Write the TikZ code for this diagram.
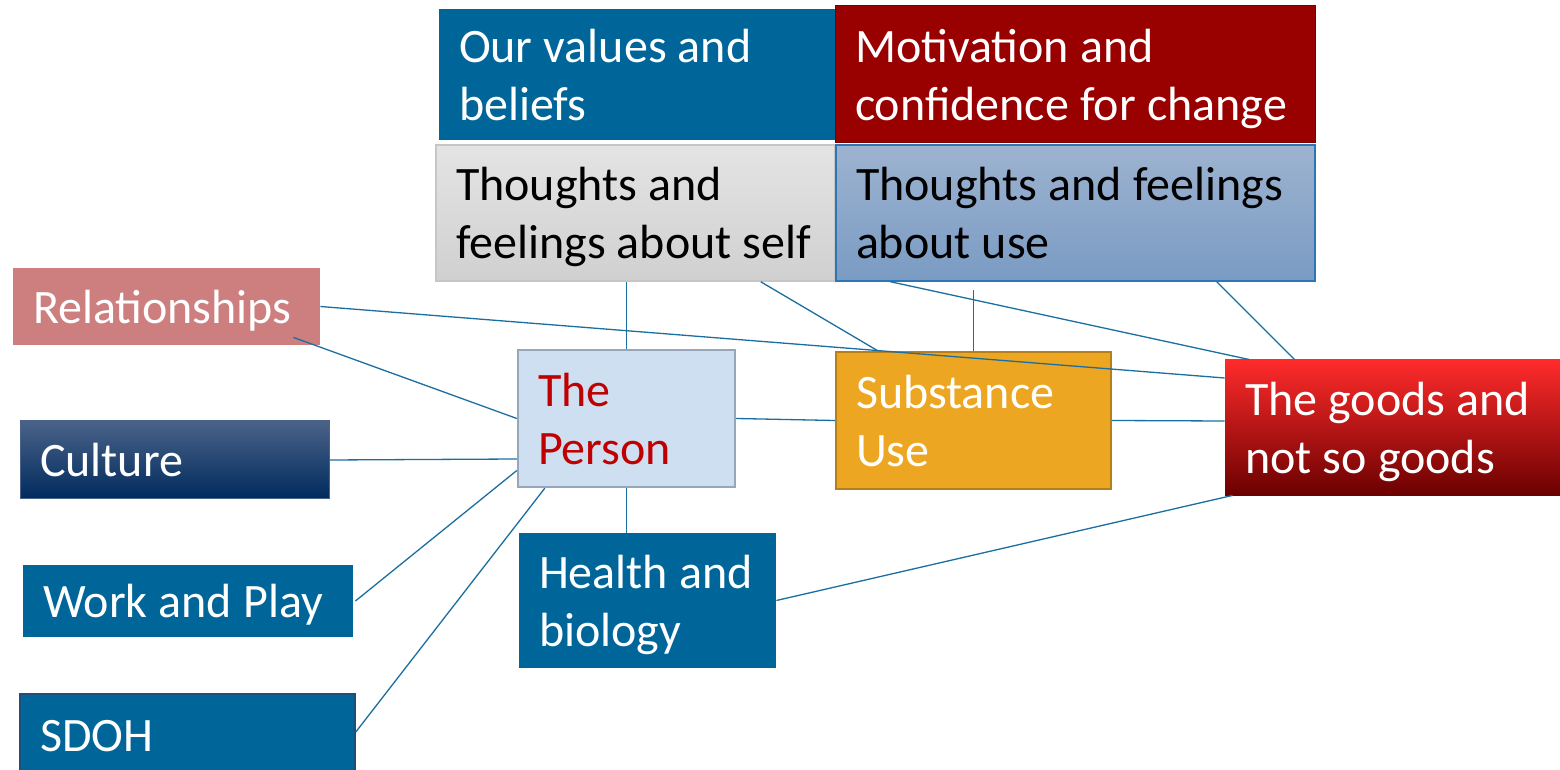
\documentclass[tikz,border=0pt]{standalone}
\usepackage{fontspec}
\setmainfont{Carlito}
\usetikzlibrary{calc}
\definecolor{blueA}{HTML}{006699}
\definecolor{redA}{HTML}{990000}
\definecolor{relc}{HTML}{CD7F7F}
\definecolor{linec}{HTML}{1B6EA0}
\definecolor{personf}{HTML}{CDDFF1}
\definecolor{personb}{HTML}{97A6B8}
\definecolor{personT}{HTML}{C00000}
\definecolor{substf}{HTML}{ECA622}
\definecolor{substb}{HTML}{B57F1D}
\definecolor{tuseT}{HTML}{9DB3D0}
\definecolor{tuseB}{HTML}{7A9BC3}
\definecolor{tuseb}{HTML}{2E75B6}
\definecolor{tselfT}{HTML}{E4E4E4}
\definecolor{tselfB}{HTML}{D0D0D0}
\definecolor{tselfb}{HTML}{C6C6C6}
\definecolor{cultT}{HTML}{4A6287}
\definecolor{cultM}{HTML}{002F66}
\definecolor{cultB}{HTML}{002B5E}
\definecolor{goodT}{HTML}{FF2B2B}
\definecolor{goodM}{HTML}{A00000}
\definecolor{goodB}{HTML}{6A0000}
\definecolor{sdohb}{HTML}{1F4E79}
\newcommand\nwl[1]{\hbox to 0pt{\spaceskip=5.6pt\relax\rule[-6.2pt]{0pt}{29pt}#1\hss}}
\tikzset{
  bx/.style={rectangle, inner xsep=10pt, inner ysep=0pt, align=left,
    font=\fontsize{24}{29}\selectfont, text=white},
  ln/.style={draw=linec, line width=0.65pt},
}
\begin{document}
\begin{tikzpicture}[x=0.5pt,y=-0.5pt]
\useasboundingbox (0,0) rectangle (1560,770);
% top boxes
\node[bx, fill=blueA, text width=178pt, minimum height=65.5pt] (vals) at (637,74.5) {\nwl{Our values and}\\ \nwl{beliefs}};
\node[bx, fill=redA, draw=redA!80!black, line width=0.5pt, text width=220pt, minimum height=68.5pt] (motiv) at (1075,74.5) {\nwl{Motivation and}\\ \nwl{confidence for change}};
\node[bx, top color=tselfT, bottom color=tselfB, draw=tselfb, line width=0.8pt, text=black, text width=179.5pt, minimum height=68pt] (tself) at (635.5,213) {\nwl{Thoughts and}\\ \nwl{feelings about self}};
\node[bx, top color=tuseT, bottom color=tuseB, draw=tuseb, line width=0.7pt, text=black, text width=219.5pt, minimum height=68pt] (tuse) at (1075.5,213) {\nwl{Thoughts and feelings}\\ \nwl{about use}};
% left boxes
\node[bx, fill=relc, text width=133.5pt, minimum height=38.5pt] (rel) at (166.5,306.5) {\nwl{Relationships}};
\node[bx, top color=cultT, middle color=cultM, bottom color=cultB, draw=cultT, line width=0.5pt, text width=134.5pt, minimum height=39pt] (cult) at (174.5,460) {\nwl{Culture}};
\node[bx, fill=blueA, text width=145pt, minimum height=36pt] (work) at (188,601) {\nwl{Work and Play}};
\node[bx, fill=blueA, draw=sdohb, line width=0.8pt, text width=147.5pt, minimum height=41pt] (sdoh) at (187.5,735) {\nwl{SDOH}};
% centre boxes
\node[bx, fill=personf, draw=personb, line width=1.2pt, text=personT, text width=88.5pt, minimum height=68.5pt] (person) at (626.5,418.5) {\nwl{The}\\ \nwl{Person}};
\node[bx, fill=substf, draw=substb, line width=1.2pt, text width=117.5pt, minimum height=68.5pt] (subst) at (973.5,420.5) {\nwl{Substance}\\ \nwl{Use}};
\node[bx, fill=blueA, text width=108.5pt, minimum height=67.5pt] (health) at (647.5,600.5) {\nwl{Health and}\\ \nwl{biology}};
\node[bx, top color=goodT, middle color=goodM, bottom color=goodB, text width=147.5pt, minimum height=68pt] (goods) at (1392.5,428) {\nwl{The goods and}\\ \nwl{not so goods}};
% free end
\coordinate (tuseend) at ($(subst.north)+(0,-61)$);
% connectors
\draw[ln] (rel.east) -- ($(goods.west)+(0,-50)$);
\draw[ln] ($(rel.south east)+(-27,-8)$) -- (person.west);
\draw[ln] (cult.east) -- ($(person.west)+(0,40.5)$);
\draw[ln] ($(work.east)+(2,0)$) -- ($(person.west)+(0,52)$);
\draw[ln] ($(sdoh.east)+(0,-3)$) -- ($(person.south west)+(28,0)$);
\draw[ln] (person.north) -- (person.north |- tself.south);
\draw[ln] (person.south) -- (person.south |- health.north);
\draw[ln] (person.east) -- (subst.west);
\draw[ln] ($(tself.south east)+(-75,0)$) -- ($(subst.north west)+(43,0)$);
\draw[ln] (tuseend) -- (subst.north);
\draw[ln] ($(tuse.south west)+(55,0)$) -- ($(goods.north west)+(25,0)$);
\draw[ln] ($(tuse.south east)+(-99,0)$) -- ($(goods.north west)+(70,0)$);
\draw[ln] (subst.east) -- ($(goods.west)+(0,-7)$);
\draw[ln] (health.east) -- ($(goods.south west)+(8,-1)$);
\end{tikzpicture}
\end{document}
